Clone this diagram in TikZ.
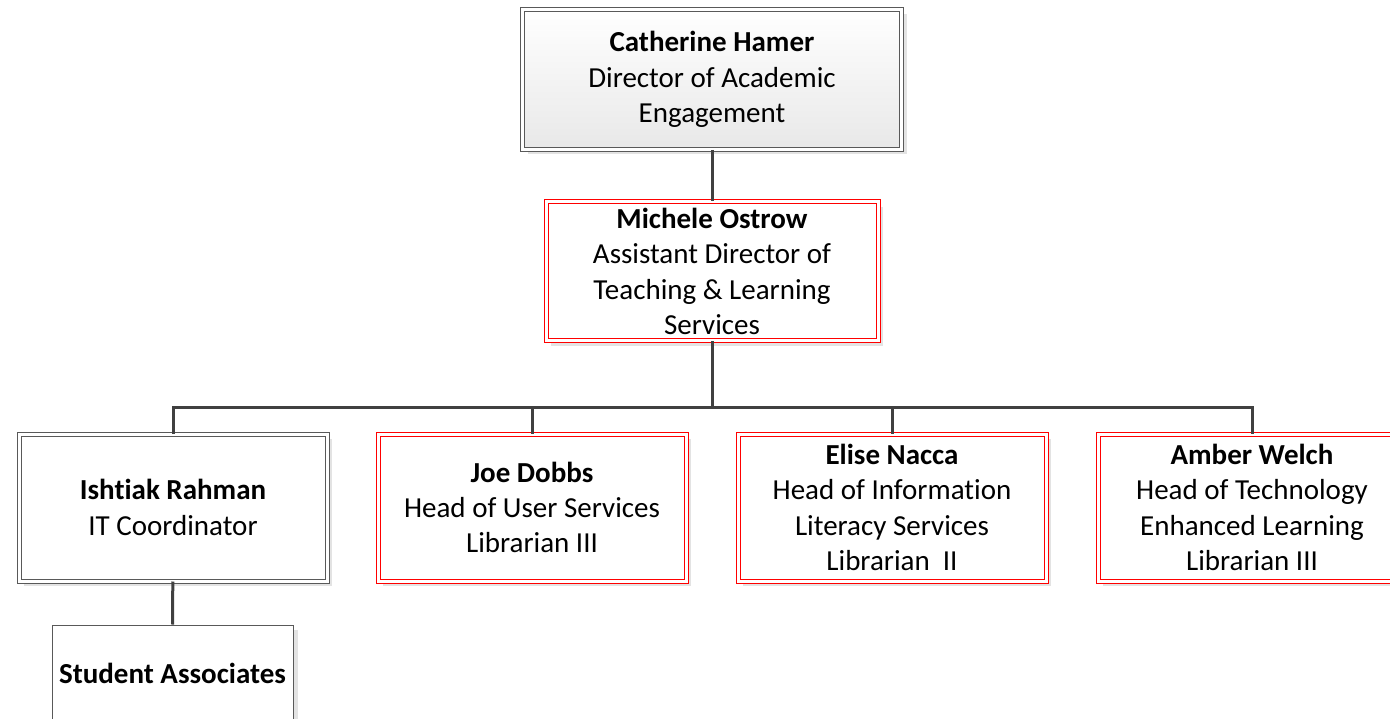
\documentclass[tikz,border=0pt]{standalone}
\usepackage{fontspec}
\setmainfont{Carlito}[Ligatures=NoCommon]
\usetikzlibrary{positioning,shadows}

\definecolor{linegray}{HTML}{404040}
\definecolor{boxgray}{HTML}{595959}
\definecolor{boxred}{HTML}{FF0000}
\definecolor{shadowgray}{HTML}{E3E3E3}

\tikzset{
  person/.style={rectangle, align=center, inner sep=0pt,
    font=\fontsize{29}{35.4}\selectfont, line width=1pt,
    minimum width=308, minimum height=147,
    drop shadow={shadow xshift=5pt, shadow yshift=-5pt, fill=shadowgray, opacity=1}},
  grayframe/.style={person, draw=boxgray, double=white, double distance=3pt, fill=white},
  redframe/.style={person, draw=boxred, double=white, double distance=3pt, fill=white},
  plainframe/.style={person, draw=boxgray},
  conn/.style={draw=linegray, line width=3pt},
}

\begin{document}
\begin{tikzpicture}[x=1pt, y=-1pt]
    \useasboundingbox (0,0) rectangle (1390,719);
    \clip (0,0) rectangle (1390,719);

    \node[grayframe, top color=white, bottom color=black!9,
          minimum width=379, minimum height=140] (hamer) at (712,79.5)
        {\textbf{Catherine Hamer}\\Director of Academic\\Engagement};
    \node[redframe, minimum width=332, minimum height=139] (ostrow) at (712,271.5)
        {\textbf{Michele Ostrow}\\Assistant Director of\\Teaching \& Learning\\Services};

    % second row
    \node[grayframe] (rahman) at (173,507.5) {\textbf{Ishtiak Rahman}\\IT Coordinator};
    \node[redframe] (dobbs) at (532,507.5)
        {\textbf{Joe Dobbs}\\Head of User Services\\Librarian III};
    \node[redframe] (nacca) at (892,507.5)
        {\textbf{Elise Nacca}\\Head of Information\\Literacy Services\\Librarian~~II};
    \node[redframe] (welch) at (1252,507.5)
        {\textbf{Amber Welch}\\Head of Technology\\Enhanced Learning\\Librarian III};

    \node[plainframe, fill=white, minimum width=241, minimum height=96] (students) at (172.5,673)
        {\textbf{Student Associates}};

    \coordinate (bus) at (712,407);
    \draw[conn] (hamer) -- (ostrow);
    \draw[conn] (ostrow) -- (bus);
    \foreach \n in {rahman,dobbs,nacca,welch}
        \draw[conn] (bus) -| (\n.north);
    \draw[conn] (rahman) -- (students);
\end{tikzpicture}
\end{document}
